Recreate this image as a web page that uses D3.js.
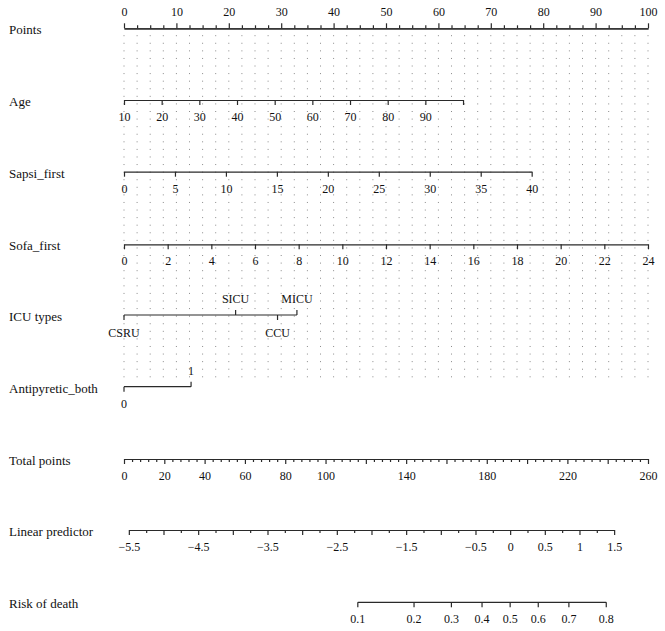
<!DOCTYPE html>
<html><head><meta charset="utf-8">
<script src="https://cdn.jsdelivr.net/npm/d3@7"></script>
<style>
body{margin:0;background:#fff}
svg{display:block}
text{font-family:"Liberation Serif","Times New Roman",serif;fill:#111}
</style>
</head><body><svg id="c" width="665" height="631"></svg>
<script>
// ---------- data ----------
const pointsTicks = [0,10,20,30,40,50,60,70,80,90,100];
const pointsMinor = [2.5,5,7.5,12.5,15,17.5,22.5,25,27.5,32.5,35,37.5,42.5,45,47.5,52.5,55,57.5,62.5,65,67.5,72.5,75,77.5,82.5,85,87.5,92.5,95,97.5];

const ageTicks = [10,20,30,40,50,60,70,80,90,100];
const ageLabels = ["10","20","30","40","50","60","70","80","90",""];
const ageDomain = [10,100];
const agePoints = [0,64.7];

const sapsiTicks = [0,5,10,15,20,25,30,35,40];
const sapsiDomain = [0,40];
const sapsiPoints = [0,77.8];

const sofaTicks = [0,2,4,6,8,10,12,14,16,18,20,22,24];
const sofaDomain = [0,24];
const sofaPoints = [0,100];

const icuCategories = ["CSRU","SICU","CCU","MICU"];
const icuPoints = [0,21.3,29.3,33.0];
const icuSide = ["below","above","below","above"];

const antiCategories = ["0","1"];
const antiPoints = [0,12.8];
const antiSide = ["below","above"];

const totalTicks = [0,20,40,60,80,100,120,140,160,180,200,220,240,260];
const totalLabels = ["0","20","40","60","80","100","","140","","180","","220","","260"];
const totalMinorStep = 4;
const totalDomain = [0,260];

const lpTicks = [-5.5,-5,-4.5,-4,-3.5,-3,-2.5,-2,-1.5,-1,-0.5,0,0.5,1,1.5];
const lpLabels = ["−5.5","","−4.5","","−3.5","","−2.5","","−1.5","","−0.5","0","0.5","1","1.5"];
const lpMinor = [-5.25,-4.75,-4.25,-3.75,-3.25,-2.75,-2.25,-1.75,-1.25,-0.75,-0.25,0.25,0.75,1.25];
const lpDomain = [-5.5,1.5];
const lpTotal = [2.4,243.2];

const riskTicks = [0.1,0.2,0.3,0.4,0.5,0.6,0.7,0.8];
const riskLabels = ["0.1","0.2","0.3","0.4","0.5","0.6","0.7","0.8"];

const rowNames = ["Points","Age","Sapsi_first","Sofa_first","ICU types","Antipyretic_both","Total points","Linear predictor","Risk of death"];

// ---------- layout ----------
const svg = d3.select("#c");
const L = 124, R = 648;
const rowY = [28.3,100,171.7,244.3,315,386.7,459,530,602.3];
const AX = "#2a2a2a", SW = 1.2;

const xPts = d3.scaleLinear().domain([0,100]).range([L,R]);
const xTot = d3.scaleLinear().domain(totalDomain).range([L,R]);
const lpToTot = d3.scaleLinear().domain(lpDomain).range(lpTotal);
const xLP = v => xTot(lpToTot(v));

// dotted grid
const gridCols = d3.range(0,100.001,2.5);
svg.append("g").selectAll("line").data(gridCols).join("line")
  .attr("x1",d=>xPts(d)).attr("x2",d=>xPts(d))
  .attr("y1",35.2).attr("y2",382)
  .attr("stroke","#8a8a8a").attr("stroke-width",1)
  .attr("stroke-dasharray","1 6.58");

// row labels
svg.append("g").selectAll("text").data(rowNames).join("text")
  .attr("x",9).attr("y",(d,i)=>rowY[i]+6)
  .attr("font-size",13).text(d=>d);

function styleAxis(g){
  g.selectAll(".domain").attr("stroke",AX).attr("stroke-width",SW);
  g.selectAll(".tick line").attr("stroke",AX).attr("stroke-width",SW);
  g.selectAll(".tick text").attr("font-family",'"Liberation Serif","Times New Roman",serif')
    .attr("font-size",12).attr("fill","#111");
}

// Points axis (top)
{
  const gm = svg.append("g").attr("transform",`translate(0,${rowY[0]})`)
    .call(d3.axisTop(xPts).tickValues(pointsMinor).tickSize(3).tickSizeOuter(0).tickFormat(""));
  styleAxis(gm);
  const g = svg.append("g").attr("transform",`translate(0,${rowY[0]})`)
    .call(d3.axisTop(xPts).tickValues(pointsTicks).tickSize(5).tickSizeOuter(0).tickPadding(7).tickFormat(d3.format("d")));
  styleAxis(g);
}

// continuous variable rows
function varRow(y, ticks, labels, domain, pts){
  const sc = d3.scaleLinear().domain(domain).range([xPts(pts[0]), xPts(pts[1])]);
  const g = svg.append("g").attr("transform",`translate(0,${y})`)
    .call(d3.axisBottom(sc).tickValues(ticks).tickSize(5).tickSizeOuter(0).tickPadding(7.5)
      .tickFormat((d,i)=>labels[i]));
  styleAxis(g);
}
varRow(rowY[1], ageTicks, ageLabels, ageDomain, agePoints);
varRow(rowY[2], sapsiTicks, sapsiTicks.map(String), sapsiDomain, sapsiPoints);
varRow(rowY[3], sofaTicks, sofaTicks.map(String), sofaDomain, sofaPoints);

// categorical rows
function catRow(y, cats, pts, side){
  const g = svg.append("g").attr("transform",`translate(0,${y})`);
  const xs = pts.map(p=>xPts(p));
  g.append("line").attr("x1",d3.min(xs)).attr("x2",d3.max(xs)).attr("y1",0).attr("y2",0)
    .attr("stroke",AX).attr("stroke-width",SW);
  cats.forEach((c,i)=>{
    const up = side[i]==="above";
    g.append("line").attr("x1",xs[i]).attr("x2",xs[i]).attr("y1",0).attr("y2",up?-5:5)
      .attr("stroke",AX).attr("stroke-width",SW);
    g.append("text").attr("x",xs[i]).attr("y",up?-12:21.5).attr("text-anchor","middle")
      .attr("font-size",12).text(c);
  });
}
catRow(rowY[4], icuCategories, icuPoints, icuSide);
catRow(rowY[5], antiCategories, antiPoints, antiSide);

// Total points
{
  const minor = d3.range(totalDomain[0], totalDomain[1]+0.001, totalMinorStep).filter(v=>v%20!==0);
  const gm = svg.append("g").attr("transform",`translate(0,${rowY[6]})`)
    .call(d3.axisBottom(xTot).tickValues(minor).tickSize(3).tickSizeOuter(0).tickFormat(""));
  styleAxis(gm);
  const g = svg.append("g").attr("transform",`translate(0,${rowY[6]})`)
    .call(d3.axisBottom(xTot).tickValues(totalTicks).tickSize(5).tickSizeOuter(0).tickPadding(7.5)
      .tickFormat((d,i)=>totalLabels[i]));
  styleAxis(g);
}

// Linear predictor
{
  const sc = d3.scaleLinear().domain(lpDomain).range([xLP(lpDomain[0]), xLP(lpDomain[1])]);
  const gm = svg.append("g").attr("transform",`translate(0,${rowY[7]})`)
    .call(d3.axisBottom(sc).tickValues(lpMinor).tickSize(3).tickSizeOuter(0).tickFormat(""));
  styleAxis(gm);
  const g = svg.append("g").attr("transform",`translate(0,${rowY[7]})`)
    .call(d3.axisBottom(sc).tickValues(lpTicks).tickSize(5).tickSizeOuter(0).tickPadding(7.5)
      .tickFormat((d,i)=>lpLabels[i]));
  styleAxis(g);
}

// Risk of death
{
  const logit = p => Math.log(p/(1-p));
  const g = svg.append("g").attr("transform",`translate(0,${rowY[8]})`);
  const xs = riskTicks.map(p=>xLP(logit(p)));
  g.append("line").attr("x1",d3.min(xs)).attr("x2",d3.max(xs)).attr("y1",0).attr("y2",0)
    .attr("stroke",AX).attr("stroke-width",SW);
  g.selectAll(".t").data(riskTicks).join("line").attr("class","t")
    .attr("x1",(d,i)=>xs[i]).attr("x2",(d,i)=>xs[i]).attr("y1",0).attr("y2",5)
    .attr("stroke",AX).attr("stroke-width",SW);
  g.selectAll("text").data(riskLabels).join("text")
    .attr("x",(d,i)=>xs[i]).attr("y",21).attr("text-anchor","middle")
    .attr("font-size",12).text(d=>d);
}
</script></body></html>
